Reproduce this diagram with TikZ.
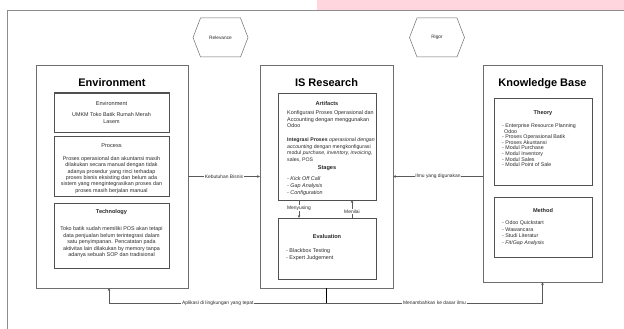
\documentclass[tikz,border=0pt]{standalone}
\usepackage{fontspec}
\setmainfont{Liberation Sans}
\usetikzlibrary{arrows.meta}

\definecolor{bandpink}{HTML}{FFD6DD}
\definecolor{framegray}{HTML}{8C8C8C}
\definecolor{boxgray}{HTML}{6E6E6E}
\definecolor{innergray}{HTML}{505050}
\definecolor{linegray}{HTML}{5A5A5A}
\definecolor{inkgray}{HTML}{2A2A2A}

% stacked lines whose baseline is that of the first line
\newcommand\leftlines[1]{\begin{tabular}[t]{@{}l@{}}#1\end{tabular}}
\newcommand\centerlines[1]{\begin{tabular}[t]{@{}c@{}}#1\end{tabular}}

\tikzset{
  mainbox/.style={draw=boxgray, line width=0.6pt, inner sep=0pt, outer sep=0pt},
  innerbox/.style={draw=innergray, line width=1pt, inner sep=0pt, outer sep=0pt},
  bigtitle/.style={font=\fontsize{11}{13}\selectfont\bfseries, text=black, inner sep=0pt, anchor=base},
  subtitle/.style={font=\fontsize{5.6}{6.5}\selectfont, text=inkgray, inner sep=0pt, anchor=base},
  boldtitle/.style={subtitle, font=\fontsize{5.6}{6.5}\selectfont\bfseries},
  bodytext/.style={font=\fontsize{5.4}{6.5}\selectfont, text=inkgray, inner sep=0pt},
  hexlabel/.style={font=\fontsize{4.8}{6}\selectfont, text=inkgray, inner sep=0pt},
  hexline/.style={draw=boxgray, line width=0.5pt},
  conn/.style={draw=linegray, line width=0.5pt},
  tip/.style={-{Stealth[length=3pt,width=2.6pt]}},
  lbl/.style={font=\fontsize{4.9}{5.5}\selectfont, text=inkgray, fill=white, inner sep=0.6pt}
}

\begin{document}
\begin{tikzpicture}[x=1pt,y=-1pt]
  \useasboundingbox (0,0) rectangle (624,329);
  \fill[white] (0,0) rectangle (624,329);

  % top band and surrounding frame
  \fill[bandpink] (317,0) rectangle (624,10);
  \draw[framegray, line width=0.9pt] (624,10) -- (7,10) -- (7,329);

  % hexagon labels
  \node[hexlabel] (rel) at (220.5,37.5) {Relevance};
  \draw[hexline] (rel.center) ++(-27.5,0) -- ++(7.5,-19.5) -- ++(40,0) -- ++(7.5,19.5)
        -- ++(-7.5,19.5) -- ++(-40,0) -- cycle;
  \node[hexlabel] (rig) at (437,37.5) {Rigor};
  \draw[hexline] (rig.center) ++(-27.5,0) -- ++(7.5,-19.5) -- ++(40,0) -- ++(7.5,19.5)
        -- ++(-7.5,19.5) -- ++(-40,0) -- cycle;

  % three main columns
  \node[mainbox, minimum width=152pt, minimum height=223pt] (env) at (112,176.5) {};
  \node[mainbox, minimum width=133pt, minimum height=223pt] (isr) at (326.5,176.5) {};
  \node[mainbox, minimum width=119pt, minimum height=217pt] (kb) at (542.5,173.5) {};

  \node[bigtitle] (envT) at (112,87) {Environment};
  \node[bigtitle] (isrT) at (326.5,87) {IS Research};
  \node[bigtitle] (kbT) at (542.5,87) {Knowledge Base};

  % Environment column
  \node[innerbox, minimum width=115pt, minimum height=39pt] (envA) at (111.5,112.5) {};
  \node[subtitle] (envAT) at (111.5,105) {Environment};
  \node[bodytext, anchor=base, font=\fontsize{5.4}{7}\selectfont] (envAX) at (111.5,116.5)
    {\centerlines{UMKM Toko Batik Rumah Merah\\Lasem}};

  \node[innerbox, minimum width=115pt, minimum height=60pt] (proc) at (111.5,166) {};
  \node[subtitle] (procT) at (111.5,147) {Process};
  \node[bodytext, anchor=base, font=\fontsize{5.4}{6.35}\selectfont] (procX) at (111.5,160.5)
    {\centerlines{Proses operasional dan akuntansi masih\\
     dilakukan secara manual dengan tidak\\
     adanya prosedur yang rinci terhadap\\
     proses bisnis eksisting dan belum ada\\
     sistem yang mengintegrasikan proses dan\\
     proses masih berjalan manual}};

  \node[innerbox, minimum width=115pt, minimum height=65pt] (tech) at (111.5,235.5) {};
  \node[boldtitle] (techT) at (111.5,213) {Technology};
  \node[bodytext, anchor=base, font=\fontsize{5.4}{6.6}\selectfont] (techX) at (111.5,230.5)
    {\centerlines{Toko batik sudah memiliki POS akan tetapi\\
     data penjualan belum terintegrasi dalam\\
     satu penyimpanan. Pencatatan pada\\
     aktivitas lain dilakukan by memory tanpa\\
     adanya sebuah SOP dan tradisional}};

  % IS Research column
  \node[innerbox, minimum width=98pt, minimum height=107pt] (art) at (327,146.5) {};
  \node[boldtitle] (artT) at (327,105) {Artifacts};
  \node[bodytext, anchor=base west] (artX) at (287,114.5)
    {\leftlines{Konfigurasi Proses Operasional dan\\
     Accounting dengan menggunakan\\
     Odoo}};
  \node[bodytext, anchor=base west, font=\fontsize{5.2}{6.6}\selectfont] (artY) at (287,141.5)
    {\leftlines{\textbf{Integrasi Proses} \textit{operasional dengan}\\
     \textit{accounting} dengan mengkonfigurasi\\
     modul \textit{purchase, inventory, invoicing,}\\
     sales, POS}};
  \node[boldtitle] (stgT) at (327,169) {Stages};
  \node[bodytext, anchor=base west, font=\fontsize{5.4}{7}\selectfont\itshape] (stgX) at (287,180.5)
    {\leftlines{- Kick Off Call\\
     - Gap Analysis\\
     - Configuration}};

  \node[innerbox, minimum width=98pt, minimum height=61pt] (eval) at (327,248.5) {};
  \node[boldtitle] (evalT) at (327,238) {Evaluation};
  \node[bodytext, anchor=base west, font=\fontsize{5.4}{7}\selectfont] (evalX) at (286,252.5)
    {\leftlines{- Blackbox Testing\\
     - Expert Judgement}};

  % Knowledge Base column
  \node[innerbox, minimum width=98pt, minimum height=87pt] (theo) at (543,141.5) {};
  \node[boldtitle] (theoT) at (543,114) {Theory};
  \node[bodytext, anchor=base west, font=\fontsize{5.3}{5.6}\selectfont] (theoX) at (502,127.5)
    {\leftlines{- Enterprise Resource Planning\\
     \hspace*{2pt}Odoo\\
     - Proses Operasional Batik\\
     - Proses Akuntansi\\
     - Modul Purchase\\
     - Modul Inventory\\
     - Modul Sales\\
     - Modul Point of Sale}};

  \node[innerbox, minimum width=98pt, minimum height=60pt] (meth) at (543,227) {};
  \node[boldtitle] (methT) at (543,212) {Method};
  \node[bodytext, anchor=base west, font=\fontsize{5.3}{6.5}\selectfont] (methX) at (502,224.5)
    {\leftlines{- Odoo Quickstart\\
     - Wawancara\\
     - Studi Literatur\\
     - \textit{Fit/Gap Analysis}}};

  % connectors between the columns
  \draw[conn, tip] (env.east) -- node[lbl] {Kebutuhan Bisnis} (isr.west);
  \draw[conn, tip] (kb.west |- isr.east) -- node[lbl] {Ilmu yang digunakan} (isr.east);

  % connectors inside IS Research
  \coordinate (menX) at (299,0);
  \coordinate (nilX) at (352,0);
  \draw[conn, tip] (art.south -| menX) -- node[lbl, pos=0.45] {Menyusing} (eval.north -| menX);
  \draw[conn, tip] (eval.north -| nilX) -- node[lbl, pos=0.35] {Menilai} (art.south -| nilX);

  % feedback bus under the columns
  \coordinate (bus) at (0,303);
  \draw[black, line width=0.7pt] (isr.south) -- (isr.south |- bus);
  \draw[conn, tip] (isr.south |- bus) -- node[lbl] {Aplikasi di lingkungan yang tepat}
        ([xshift=-3pt]env.south |- bus) -- ([xshift=-3pt]env.south);
  \draw[conn, tip] (isr.south |- bus) -- node[lbl] {Menambahkan ke dasar ilmu}
        (kb.south |- bus) -- (kb.south);
\end{tikzpicture}
\end{document}
